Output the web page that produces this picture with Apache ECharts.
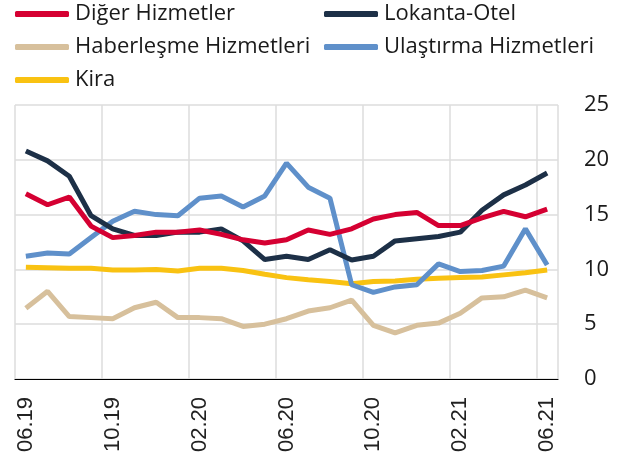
<!DOCTYPE html>
<html>
<head>
<meta charset="utf-8">
<script src="https://cdn.jsdelivr.net/npm/echarts@6/dist/echarts.min.js"></script>
<style>
  html, body { margin: 0; padding: 0; background: #fff; }
  #chart { width: 628px; height: 463px; }
</style>
</head>
<body>
<div id="chart"></div>
<script>
const months = [
  "06.19", "07.19", "08.19", "09.19", "10.19", "11.19", "12.19", "01.20",
  "02.20", "03.20", "04.20", "05.20", "06.20", "07.20", "08.20", "09.20",
  "10.20", "11.20", "12.20", "01.21", "02.21", "03.21", "04.21", "05.21", "06.21"
];

const digerHizmetler = [16.9, 15.9, 16.6, 13.95, 12.9, 13.1, 13.4, 13.4, 13.6, 13.2, 12.7, 12.4, 12.7,
  13.6, 13.2, 13.7, 14.6, 15.0, 15.2, 14.0, 14.0, 14.7, 15.3, 14.8, 15.5];
const lokantaOtel = [20.8, 19.9, 18.5, 14.9, 13.7, 13.1, 13.1, 13.4, 13.4, 13.7, 12.6, 10.9, 11.2,
  10.9, 11.8, 10.85, 11.2, 12.6, 12.8, 13.0, 13.4, 15.4, 16.8, 17.7, 18.8];
const haberlesme = [6.45, 8.0, 5.7, 5.6, 5.5, 6.5, 7.0, 5.6, 5.6, 5.5, 4.8, 5.0, 5.5,
  6.2, 6.5, 7.2, 4.9, 4.2, 4.9, 5.1, 6.0, 7.4, 7.5, 8.1, 7.4];
const ulastirma = [11.2, 11.5, 11.4, 12.9, 14.4, 15.3, 15.0, 14.9, 16.5, 16.7, 15.7, 16.7, 19.7,
  17.5, 16.5, 8.6, 7.9, 8.4, 8.6, 10.5, 9.8, 9.9, 10.3, 13.7, 10.4];
const kira = [10.2, 10.15, 10.1, 10.1, 9.95, 9.95, 10.0, 9.85, 10.1, 10.1, 9.9, 9.55, 9.25,
  9.05, 8.9, 8.7, 8.9, 8.95, 9.1, 9.2, 9.25, 9.3, 9.5, 9.7, 9.95];

const seriesNames = ["Diğer Hizmetler", "Lokanta-Otel", "Haberleşme Hizmetleri", "Ulaştırma Hizmetleri", "Kira"];
const seriesColors = ["#d50032", "#1d3047", "#d7c09c", "#5f90ca", "#f9c212"];
const seriesData = [digerHizmetler, lokantaOtel, haberlesme, ulastirma, kira];

// legend positions (two columns, three rows)
const legendPos = [[15, 3], [324, 3], [15, 36], [324, 36], [15, 69]];

const chart = echarts.init(document.getElementById("chart"));

const option = {
  animation: false,
  backgroundColor: "#fff",
  legend: seriesNames.map((name, i) => ({
    data: [name],
    left: legendPos[i][0],
    top: legendPos[i][1],
    padding: 0,
    icon: "roundRect",
    itemWidth: 54,
    itemHeight: 6,
    itemGap: 0,
    textStyle: {
      fontFamily: "Open Sans",
      fontSize: 22,
      color: "#1a1a1a",
      padding: [0, 0, 0, 1],
    },
  })),
  grid: {
    left: 15,
    right: 70,
    top: 105,
    bottom: 84,
    containLabel: false,
    outerBoundsMode: "none",
  },
  xAxis: {
    type: "category",
    data: months,
    boundaryGap: true,
    axisLine: { show: true, lineStyle: { color: "#000", width: 1.2 } },
    axisTick: { show: false },
    axisLabel: {
      interval: 3,
      rotate: 90,
      margin: 18,
      fontFamily: "Liberation Sans",
      fontSize: 22,
      color: "#222",
    },
    splitLine: {
      show: true,
      interval: 3,
      lineStyle: { color: "#dcdcdc", width: 1.5 },
    },
  },
  yAxis: {
    type: "value",
    position: "right",
    min: 0,
    max: 25,
    interval: 5,
    axisLine: { show: false },
    axisTick: { show: false },
    axisLabel: {
      margin: 26,
      align: "left",
      fontFamily: "Open Sans",
      fontSize: 22,
      color: "#1a1a1a",
    },
    splitLine: { lineStyle: { color: "#dcdcdc", width: 1.5 } },
  },
  series: seriesNames.map((name, i) => ({
    name: name,
    type: "line",
    data: seriesData[i],
    symbol: "none",
    color: seriesColors[i],
    lineStyle: { width: 5, color: seriesColors[i] },
    z: 10 - i,
  })),
};

chart.setOption(option);
</script>
</body>
</html>
